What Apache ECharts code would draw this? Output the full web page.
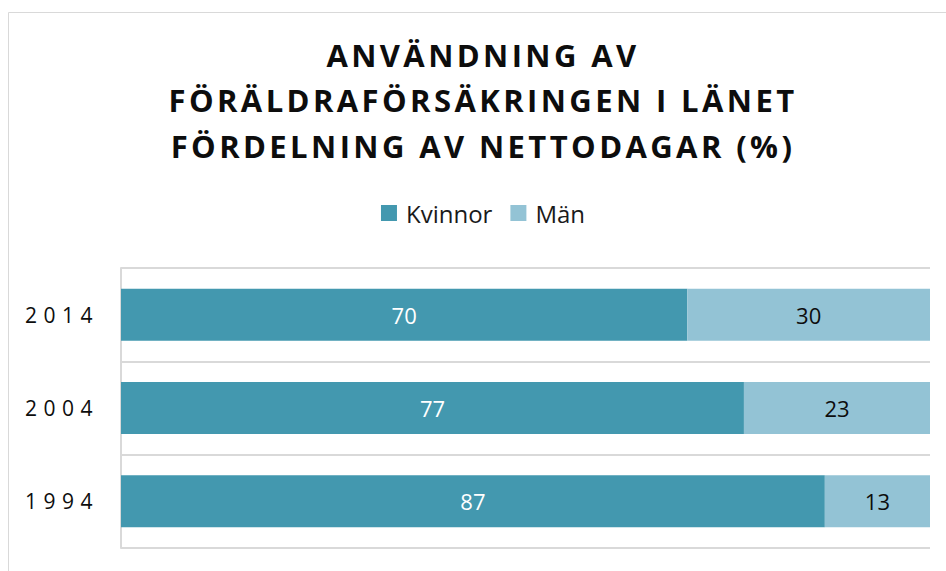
<!DOCTYPE html>
<html><head><meta charset="utf-8">
<script src="https://cdn.jsdelivr.net/npm/echarts@6/dist/echarts.min.js"></script>
<style>
html,body{margin:0;padding:0;background:#fff;overflow:hidden}#c{width:966px;height:571px}
#c svg text[style*="31px"]{letter-spacing:3.4px}
#c svg text[style*="21px"]{letter-spacing:6.5px}
</style>
</head><body><div id="c"></div>
<script>
const years = ['1994', '2004', '2014'];
const kvinnor = [87, 77, 70];
const man = [13, 23, 30];
const titleLines = ['ANVÄNDNING AV', 'FÖRÄLDRAFÖRSÄKRINGEN I LÄNET', 'FÖRDELNING AV NETTODAGAR (%)'];

const chart = echarts.init(document.getElementById('c'), null, {renderer: 'svg'});
chart.setOption({
  animation: false,
  graphic: [{type: 'rect', shape: {x: 8.5, y: 12.5, width: 949, height: 700}, style: {fill: 'none', stroke: '#d9d9d9', lineWidth: 1}, silent: true, z: -10}],
  title: {
    text: titleLines.join('\n'), left: 'center', top: 27,
    textStyle: {fontFamily: 'Open Sans', fontWeight: 'bold', fontSize: 31, lineHeight: 45.5, color: '#0d0d0d'}
  },
  legend: {
    top: 196, left: 'center', itemWidth: 16, itemHeight: 16, itemGap: 18, icon: 'rect',
    textStyle: {fontFamily: 'Open Sans', fontSize: 24, color: '#1a1a1a', padding: [0, 0, 0, 4]},
    data: ['Kvinnor', 'Män']
  },
  grid: {left: 121, right: 36, top: 268, bottom: 23},
  xAxis: {type: 'value', min: 0, max: 100, show: false},
  yAxis: {
    type: 'category', data: years,
    axisLine: {show: true, lineStyle: {color: '#d9d9d9', width: 2}},
    axisTick: {show: false},
    splitLine: {show: true, lineStyle: {color: '#d9d9d9', width: 2}},
    axisLabel: {fontFamily: 'Open Sans', fontSize: 21, color: '#0d0d0d', margin: 22}
  },
  series: [
    {name: 'Kvinnor', type: 'bar', stack: 't', data: kvinnor, barWidth: 52,
     itemStyle: {color: '#4398af'},
     label: {show: true, position: 'inside', color: '#fff', fontFamily: 'Open Sans', fontSize: 22}},
    {name: 'Män', type: 'bar', stack: 't', data: man, barWidth: 52,
     itemStyle: {color: '#93c3d5'},
     label: {show: true, position: 'inside', color: '#0d0d0d', fontFamily: 'Open Sans', fontSize: 22}}
  ]
});
</script></body></html>
